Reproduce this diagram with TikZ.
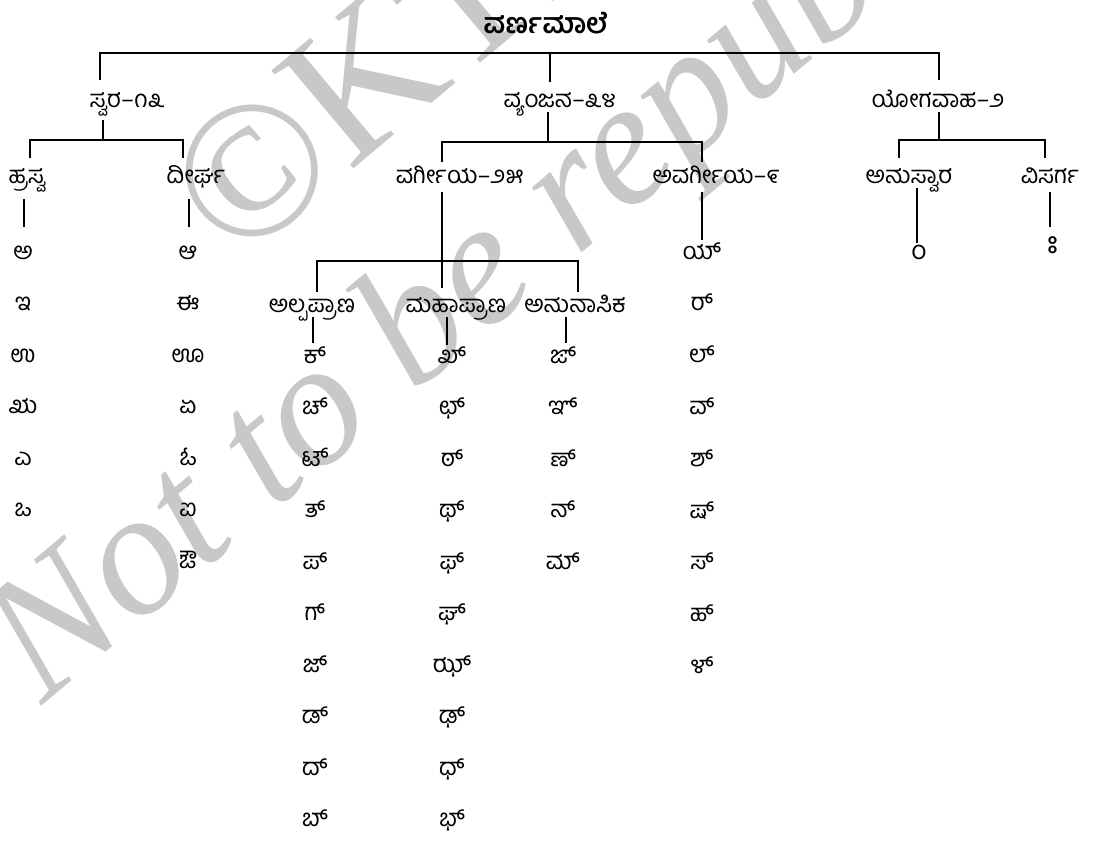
\documentclass[tikz,border=0pt]{standalone}
\usepackage{fontspec}
\newfontfamily\kn[Script=Kannada]{Hind Mysuru}
\newfontfamily\wmfont{Liberation Serif}
\definecolor{wmgray}{RGB}{200,200,200}
\begin{document}
\begin{tikzpicture}[x=1pt,y=-1pt,
  lbl/.style={font=\kn\fontsize{24}{28}\selectfont, inner sep=0pt, anchor=base},
  ltr/.style={font=\kn\fontsize{24}{28}\selectfont, inner sep=0pt, anchor=base},
  sgn/.style={font=\kn\fontsize{26}{30}\selectfont, inner sep=0pt, anchor=center},
  ttl/.style={font=\kn\bfseries\fontsize{28}{32}\selectfont, inner sep=0pt, anchor=base},
  wm/.style={text=wmgray, inner sep=0pt, anchor=base west},
  conn/.style={line width=2.6pt}]
\useasboundingbox (0,0) rectangle (1094,852);
% watermark
\node[wm, rotate=40, font=\wmfont\fontsize{195}{200}\selectfont] (wm1) at (236,268) {©KTBS};
\node[wm, rotate=40, font=\wmfont\itshape\fontsize{178}{180}\selectfont] (wm2) at (42,706) {Not to be republished};
% title
\node[ttl] (title) at (546,33) {ವರ್ಣಮಾಲೆ};
% level 1
\node[lbl] (swara) at (127,107) {ಸ್ವರ–೧೩};
\node[lbl] (vyan) at (560,107) {ವ್ಯಂಜನ–೩೪};
\node[lbl] (yoga) at (938,107) {ಯೋಗವಾಹ–೨};
% level 2
\node[lbl] (hrasva) at (27,183) {ಹ್ರಸ್ವ};
\node[lbl] (dirgha) at (196,183) {ದೀರ್ಘ};
\node[lbl] (varg) at (460,183) {ವರ್ಗೀಯ–೨೫};
\node[lbl] (avarg) at (716,183) {ಅವರ್ಗೀಯ–೯};
\node[lbl] (anusv) at (909,183) {ಅನುಸ್ವಾರ};
\node[lbl] (visarga) at (1050,183) {ವಿಸರ್ಗ};
% level 3
\node[lbl] (alpa) at (312,312) {ಅಲ್ಪಪ್ರಾಣ};
\node[lbl] (maha) at (456,312) {ಮಹಾಪ್ರಾಣ};
\node[lbl] (anuna) at (575,312) {ಅನುನಾಸಿಕ};
% letter columns
\foreach \t [count=\i from 0] in {ಅ,ಇ,ಉ,ಋ,ಎ,ಒ}
  \node[ltr] (h\i) at (23,259+51.5*\i) {\t};
\foreach \t [count=\i from 0] in {ಆ,ಈ,ಊ,ಏ,ಓ,ಐ,ಔ}
  \node[ltr] (d\i) at (188,259+51.5*\i) {\t};
\foreach \t [count=\i from 2] in {ಕ್,ಚ್,ಟ್,ತ್,ಪ್,ಗ್,ಜ್,ಡ್,ದ್,ಬ್}
  \node[ltr] (al\i) at (315,260+51.5*\i) {\t};
\foreach \t [count=\i from 2] in {ಖ್,ಛ್,ಠ್,ಥ್,ಫ್,ಘ್,ಝ್,ಢ್,ಧ್,ಭ್}
  \node[ltr] (ma\i) at (452,260+51.5*\i) {\t};
\foreach \t [count=\i from 2] in {ಙ್,ಞ್,ಣ್,ನ್,ಮ್}
  \node[ltr] (an\i) at (563,260+51.5*\i) {\t};
\foreach \t [count=\i from 0] in {ಯ್,ರ್,ಲ್,ವ್,ಶ್,ಷ್,ಸ್,ಹ್,ಳ್}
  \node[ltr] (av\i) at (702,259+51.8*\i) {\t};
\node[sgn] (anusign) at (915,252) {^^^^00a0ಂ};
\node[sgn, font=\kn\fontsize{30}{34}\selectfont] (vissign) at (1049,245) {^^^^00a0ಃ};
% connector coordinates
\coordinate (ta) at (100,80);
\coordinate (tb) at (550,82);
\coordinate (tc) at (939,80);
\coordinate (tbar) at (550,53);
\coordinate (s0) at (103,120); \coordinate (s1) at (103,140);
\coordinate (sl) at (30,158); \coordinate (sr) at (183,158);
\coordinate (hs0) at (24,199); \coordinate (hs1) at (24,227);
\coordinate (ds0) at (189,199); \coordinate (ds1) at (189,227);
\coordinate (v0) at (548,112); \coordinate (v1) at (548,142);
\coordinate (vl) at (442,162); \coordinate (vr) at (702,162);
\coordinate (vg0) at (442,192); \coordinate (vg1) at (442,288);
\coordinate (vgbar) at (442,261);
\coordinate (gl) at (317,292); \coordinate (gr) at (578,292);
\coordinate (av0) at (702,192); \coordinate (av1) at (702,240);
\coordinate (als0) at (313,317); \coordinate (als1) at (313,343);
\coordinate (mas0) at (447,317); \coordinate (mas1) at (447,345);
\coordinate (ans0) at (566,317); \coordinate (ans1) at (566,343);
\coordinate (y0) at (939,112); \coordinate (y1) at (939,140);
\coordinate (yl) at (899,158); \coordinate (yr) at (1045,158);
\coordinate (us0) at (917,188); \coordinate (us1) at (917,243);
\coordinate (vs0) at (1050,192); \coordinate (vs1) at (1050,227);
% connectors
\draw[conn] (ta) |- (tbar) -| (tc);
\draw[conn] (tbar) -- (tb);
\draw[conn] (s0) -- (s1);
\draw[conn] (sl) |- (s1) -| (sr);
\draw[conn] (hs0) -- (hs1);
\draw[conn] (ds0) -- (ds1);
\draw[conn] (v0) -- (v1);
\draw[conn] (vl) |- (v1) -| (vr);
\draw[conn] (vg0) -- (vg1);
\draw[conn] (gl) |- (vgbar) -| (gr);
\draw[conn] (av0) -- (av1);
\draw[conn] (als0) -- (als1);
\draw[conn] (mas0) -- (mas1);
\draw[conn] (ans0) -- (ans1);
\draw[conn] (y0) -- (y1);
\draw[conn] (yl) |- (y1) -| (yr);
\draw[conn] (us0) -- (us1);
\draw[conn] (vs0) -- (vs1);
\end{tikzpicture}
\end{document}
